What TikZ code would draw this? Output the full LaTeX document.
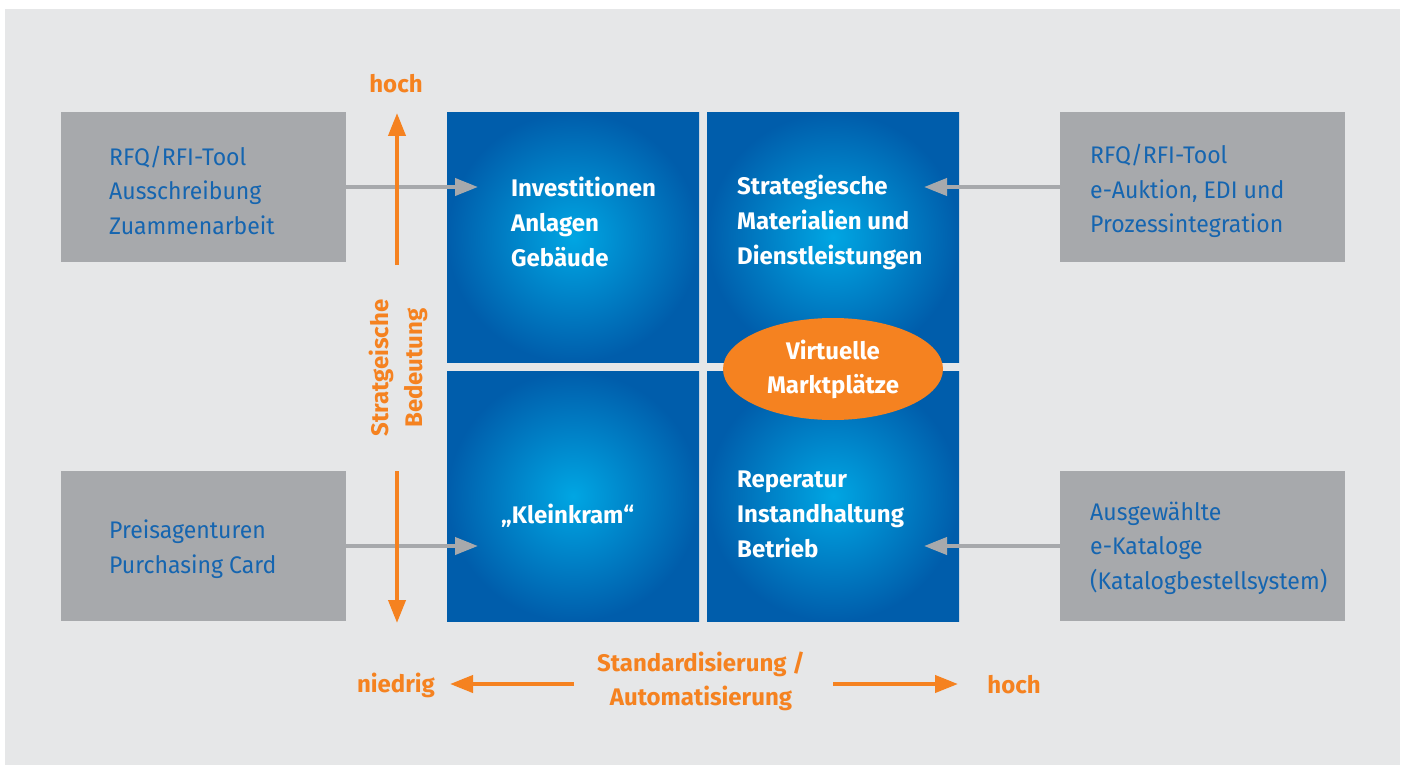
\documentclass[tikz,border=0pt]{standalone}
\usepackage{fontspec}
\setmainfont{Fira Sans}
\newfontfamily\toolfont{Fira Sans}[FakeStretch=0.96]
\usetikzlibrary{arrows.meta,shapes.geometric}

\definecolor{bggray}{HTML}{E6E7E8}
\definecolor{toolgray}{HTML}{A7A9AC}
\definecolor{toolblue}{HTML}{1565B0}
\definecolor{axisorange}{HTML}{F58220}
\definecolor{quaddark}{HTML}{005DAB}
\definecolor{quadlight}{HTML}{00A6E3}

\begin{document}
\begin{tikzpicture}[x=1pt,y=-1pt,>={Triangle[length=23pt,width=17pt]},
    txt/.style={font=\fontsize{24}{34.5}\selectfont,align=left,inner sep=0pt},
    tool/.style={fill=toolgray,minimum width=285pt,minimum height=150pt,anchor=north west,inner sep=0pt},
    tooltxt/.style={txt,text=toolblue,font=\toolfont\fontsize{24}{34.5}\selectfont,anchor=west},
    quad/.style={inner color=quadlight,outer color=quaddark,minimum width=252pt,minimum height=250pt,anchor=north west,inner sep=0pt},
    quadtxt/.style={txt,text=white,font=\fontsize{24}{35}\selectfont\bfseries,anchor=west},
    axis/.style={txt,text=axisorange,font=\fontsize{24}{34}\selectfont\bfseries,align=center}
  ]
    \useasboundingbox (0,0) rectangle (1405,765);
    \fill[bggray] (5,9) rectangle (1400,765);

    % the four fields of the matrix
    \node[quad] (inv) at (447,112) {};
    \node[quad] (mat) at (707,112) {};
    \node[quad] (klein) at (447,371) {};
    \node[quad] (rep) at (707,371) {};

    \node[quadtxt] (invtxt) at (511,222) {Investitionen\\Anlagen\\Gebäude};
    \node[quadtxt] (mattxt) at (737,222) {Strategiesche\\Materialien und\\Dienstleistungen};
    \node[quadtxt] (kleintxt) at (501,516) {„Kleinkram“};
    \node[quadtxt] (reptxt) at (737,514) {Reperatur\\Instandhaltung\\Betrieb};

    \node[ellipse,fill=axisorange,minimum width=220pt,minimum height=102pt,inner sep=0pt,
          text=white,font=\fontsize{24}{34}\selectfont\bfseries,align=center] (markt) at (833,369)
          {Virtuelle\\Marktplätze};

    % tools on both sides
    \node[tool] (rfqleft) at (61,112) {};
    \node[tool] (preis) at (61,471) {};
    \node[tool] (rfqright) at (1060,112) {};
    \node[tool] (katalog) at (1060,471) {};

    \node[tooltxt] at ([xshift=48pt,yshift=-3pt]rfqleft.west) {RFQ/RFI-Tool\\Ausschreibung\\Zuammenarbeit};
    \node[tooltxt] at ([xshift=48pt,yshift=-3pt]preis.west) {Preisagenturen\\Purchasing Card};
    \node[tooltxt] at ([xshift=30pt,yshift=-4pt]rfqright.west) {RFQ/RFI-Tool\\e-Auktion, EDI und\\Prozessintegration};
    \node[tooltxt] at ([xshift=30pt,yshift=-2pt]katalog.west) {Ausgewählte\\e-Kataloge\\(Katalogbestellsystem)};

    \coordinate (invin) at (478,187);
    \coordinate (matin) at (924,187);
    \coordinate (kleinin) at (478,546);
    \coordinate (repin) at (924,546);
    \draw[->,toolgray,line width=4pt] (rfqleft.east |- invin) -- (invin);
    \draw[->,toolgray,line width=4pt] (rfqright.west |- matin) -- (matin);
    \draw[->,toolgray,line width=4pt] (preis.east |- kleinin) -- (kleinin);
    \draw[->,toolgray,line width=4pt] (katalog.west |- repin) -- (repin);

    % vertical axis
    \node[axis] (vhoch) at (396,84) {hoch};
    \node[axis,rotate=90] (vlabel) at (398,368) {Stratgeische\\Bedeutung};
    \coordinate (vtop) at (397,113);
    \coordinate (vbot) at (397,623);
    \draw[->,axisorange,line width=4pt] (397,265) -- (vtop);
    \draw[->,axisorange,line width=4pt] (397,471) -- (vbot);

    % horizontal axis
    \node[axis] (hlabel) at (701,681) {Standardisierung /\\Automatisierung};
    \node[axis] (niedrig) at (396,685) {niedrig};
    \node[axis] (hhoch) at (1014,685) {hoch};
    \coordinate (hleft) at (450,684);
    \coordinate (hright) at (958,684);
    \draw[->,axisorange,line width=4pt] (574,684) -- (hleft);
    \draw[->,axisorange,line width=4pt] (833,684) -- (hright);
\end{tikzpicture}
\end{document}
